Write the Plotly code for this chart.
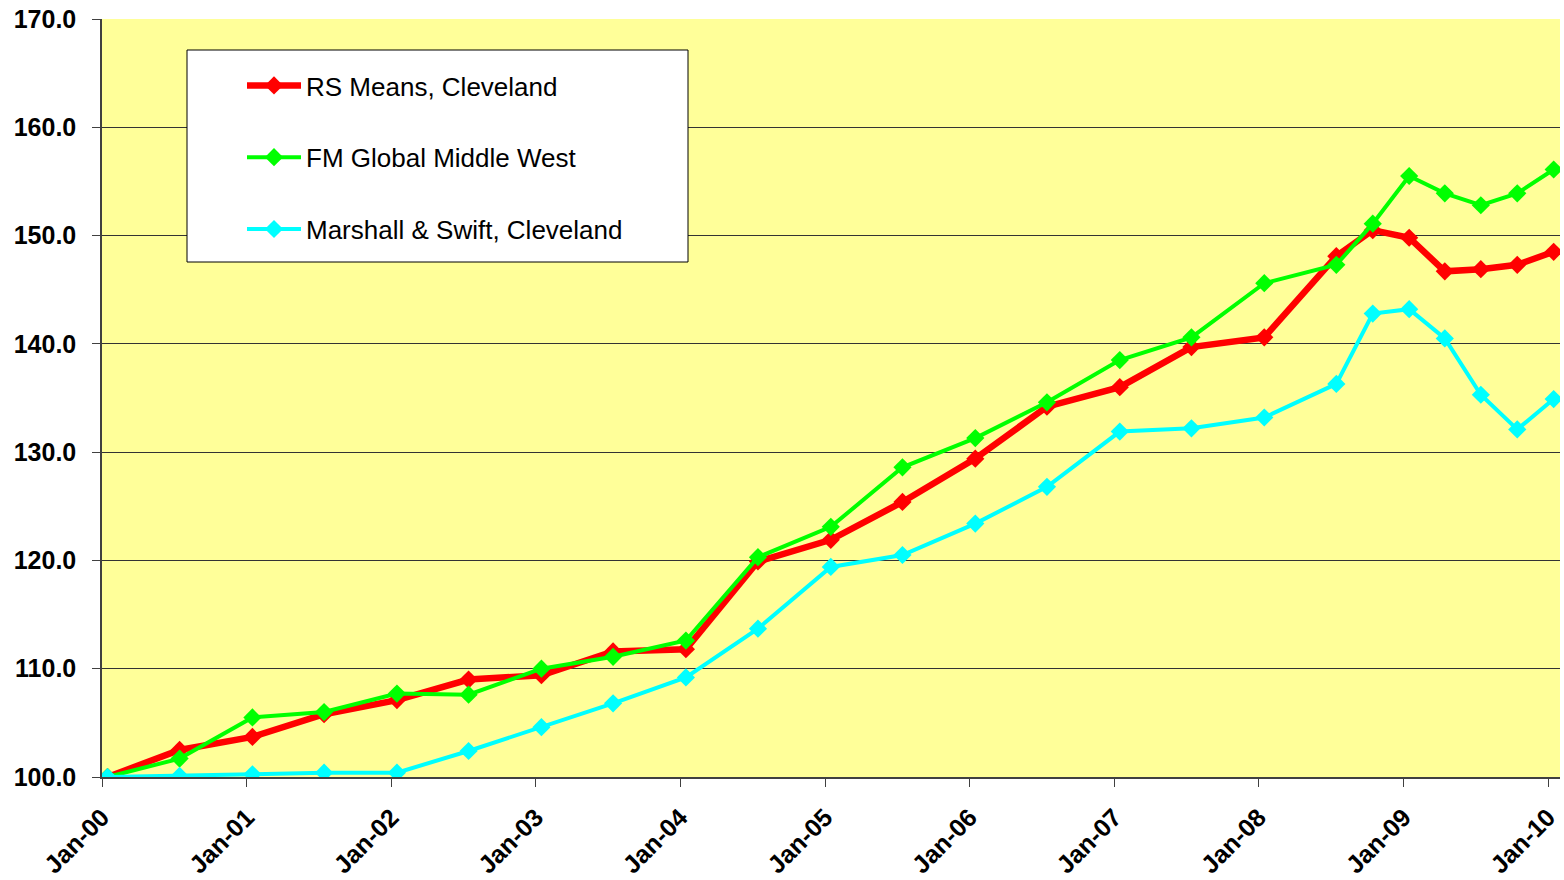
import plotly.graph_objects as go

dates = ["2000-01-15", "2000-07-15", "2001-01-15", "2001-07-15", "2002-01-15", "2002-07-15",
         "2003-01-15", "2003-07-15", "2004-01-15", "2004-07-15", "2005-01-15", "2005-07-15",
         "2006-01-15", "2006-07-15", "2007-01-15", "2007-07-15", "2008-01-15", "2008-07-15",
         "2008-10-15", "2009-01-15", "2009-04-15", "2009-07-15", "2009-10-15", "2010-01-15"]

rs_means = [100.0, 102.5, 103.7, 105.8, 107.1, 109.0, 109.4, 111.6, 111.8, 119.9, 121.9, 125.4,
            129.4, 134.2, 136.0, 139.7, 140.6, 148.1, 150.5, 149.8, 146.7, 146.9, 147.3, 148.5]
fm_global = [100.0, 101.7, 105.5, 106.0, 107.7, 107.6, 110.0, 111.1, 112.6, 120.3, 123.1, 128.6,
             131.3, 134.6, 138.5, 140.6, 145.6, 147.3, 151.1, 155.5, 153.9, 152.8, 153.9, 156.1]
marshall = [100.0, 100.1, 100.25, 100.4, 100.4, 102.4, 104.6, 106.8, 109.2, 113.7, 119.4, 120.5,
            123.4, 126.8, 131.9, 132.2, 133.2, 136.3, 142.8, 143.2, 140.5, 135.3, 132.1, 134.9]

series_names = ["RS Means, Cleveland", "FM Global Middle West", "Marshall & Swift, Cleveland"]
series_colors = ["#FF0000", "#00FF00", "#00FFFF"]
series_widths = [6.5, 4, 4]

tick_dates = ["2000-01-01", "2001-01-01", "2002-01-01", "2003-01-01", "2004-01-01", "2005-01-01",
              "2006-01-01", "2007-01-01", "2008-01-01", "2009-01-01", "2010-01-01"]
tick_labels = ["Jan-00", "Jan-01", "Jan-02", "Jan-03", "Jan-04", "Jan-05",
               "Jan-06", "Jan-07", "Jan-08", "Jan-09", "Jan-10"]

fig = go.Figure()
for i, (vals, name, col, w) in enumerate(zip([rs_means, fm_global, marshall], series_names,
                                             series_colors, series_widths)):
    fig.add_trace(go.Scatter(
        x=dates, y=vals, name=name, mode="lines+markers",
        line=dict(color=col, width=w),
        marker=dict(symbol="diamond", size=14, color=col),
        legendgroup=f"g{i}",
    ))

# plot area: x 102..1560, y 19..777
W, H = 1564, 880
L, R, T, B = 102, 4, 19, 103
pw, ph = W - L - R, H - T - B

def px(x):
    return (x - L) / pw

def py(y):
    return (H - B - y) / ph

fig.add_shape(type="rect", xref="paper", yref="paper",
              x0=px(187), x1=px(688), y0=py(262), y1=py(50),
              fillcolor="white", line=dict(color="black", width=1), layer="above")

fig.update_layout(
    width=W, height=H,
    margin=dict(l=L, r=R, t=T, b=B, autoexpand=False),
    paper_bgcolor="white",
    plot_bgcolor="#FFFF99",
    showlegend=True,
    legend=dict(
        x=px(242), y=py(62), xanchor="left", yanchor="top",
        bgcolor="rgba(0,0,0,0)", borderwidth=0,
        font=dict(family="Arial, Liberation Sans", size=26, color="black"),
        traceorder="grouped", tracegroupgap=35, itemwidth=54,
    ),
    xaxis=dict(
        type="date", range=["2000-01-01", "2010-01-31"], automargin=False,
        tickvals=tick_dates, ticktext=tick_labels, tickangle=-45,
        tickfont=dict(family="Arial, Liberation Sans", size=25, color="black", weight="bold"),
        ticks="outside", ticklen=8, tickcolor="#404040", ticklabelstandoff=6,
        showline=True, linecolor="#404040", linewidth=1.5,
        showgrid=False, zeroline=False,
    ),
    yaxis=dict(
        range=[100, 170], dtick=10, tickformat=".1f", automargin=False,
        tickfont=dict(family="Arial, Liberation Sans", size=25, color="black", weight="bold"),
        ticks="outside", ticklen=8, tickcolor="#404040", ticklabelstandoff=11,
        showline=True, linecolor="#404040", linewidth=1.5,
        showgrid=True, gridcolor="#333333", gridwidth=1,
        zeroline=False,
    ),
)

fig.write_html("out.html")
